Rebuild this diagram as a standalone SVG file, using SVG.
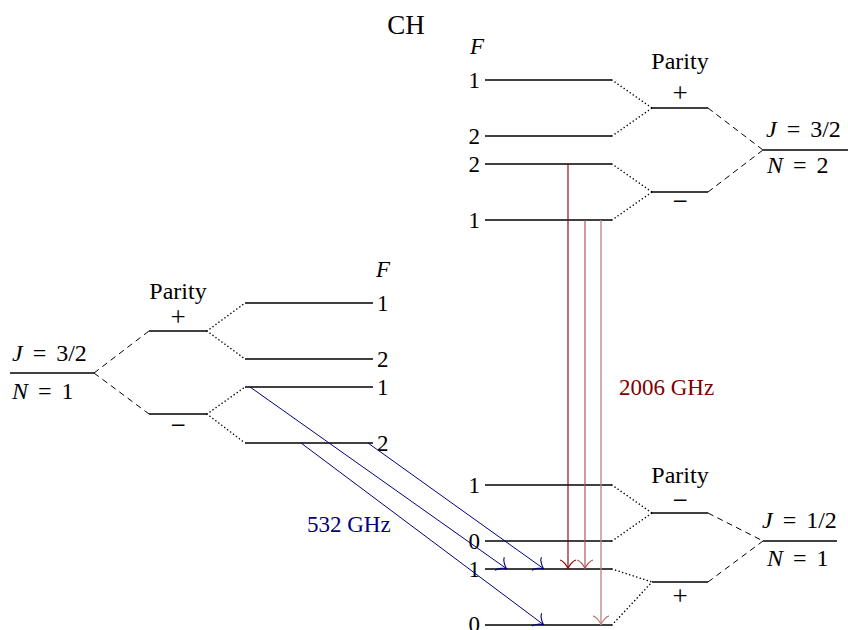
<svg xmlns="http://www.w3.org/2000/svg" width="848" height="630" viewBox="0 0 848 630">
<style>
  text { font-family: "Liberation Serif", "DejaVu Serif", serif; font-size: 23px; fill: #000; }
  .title { font-size: 27px; }
  .par { font-size: 24px; }
  .sign { font-size: 27px; }
  .math { font-size: 24px; word-spacing: 4px; }
  .mid { text-anchor: middle; }
  .end { text-anchor: end; }
  .it { font-style: italic; }
  .lvl { stroke: #000; stroke-width: 1.3; fill: none; }
  .dash { stroke: #000; stroke-width: 1; stroke-dasharray: 6 4.5; fill: none; }
  .dot { stroke: #000; stroke-width: 1.5; stroke-dasharray: 0.1 3.6; stroke-linecap: round; fill: none; }
  .blue { stroke: #000080; stroke-width: 1; fill: none; }
  .red1 { stroke: #800000; stroke-width: 1.1; fill: none; }
  .red2 { stroke: #a84c4c; stroke-width: 1.1; fill: none; }
  .red3 { stroke: #bf8080; stroke-width: 1.3; fill: none; }
  .bluetxt { fill: #000080; }
  .redtxt { fill: #800000; }
</style>
<defs>
  <marker id="ab" markerUnits="userSpaceOnUse" viewBox="-9 -10 14 20" markerWidth="14" markerHeight="20" refX="3" refY="0" orient="auto">
    <path d="M -6,-8 C -5.5,-5 0,-0.5 3,0 C 0,0.5 -5.5,5 -6,8" fill="none" stroke="#000080" stroke-width="1.1"/>
  </marker>
  <marker id="ar1" markerUnits="userSpaceOnUse" viewBox="-9 -10 14 20" markerWidth="14" markerHeight="20" refX="3" refY="0" orient="auto">
    <path d="M -6,-8 C -5.5,-5 0,-0.5 3,0 C 0,0.5 -5.5,5 -6,8" fill="none" stroke="#800000" stroke-width="1.2"/>
  </marker>
  <marker id="ar2" markerUnits="userSpaceOnUse" viewBox="-9 -10 14 20" markerWidth="14" markerHeight="20" refX="3" refY="0" orient="auto">
    <path d="M -6,-8 C -5.5,-5 0,-0.5 3,0 C 0,0.5 -5.5,5 -6,8" fill="none" stroke="#a84c4c" stroke-width="1.2"/>
  </marker>
  <marker id="ar3" markerUnits="userSpaceOnUse" viewBox="-9 -10 14 20" markerWidth="14" markerHeight="20" refX="3" refY="0" orient="auto">
    <path d="M -6,-8 C -5.5,-5 0,-0.5 3,0 C 0,0.5 -5.5,5 -6,8" fill="none" stroke="#bf8080" stroke-width="1.3"/>
  </marker>
</defs>

<text class="title mid" x="406" y="34">CH</text>

<!-- Left: N=1, J=3/2 (ground state) -->
<g id="left-J32-N1">
  <line class="lvl" x1="10" y1="373" x2="94" y2="373"/>
  <text class="math" x="12" y="361"><tspan class="it">J</tspan> = 3/2</text>
  <text class="math" x="12" y="399"><tspan class="it">N</tspan> = 1</text>
</g>
<g id="left-parity-plus">
  <line class="lvl" x1="149" y1="331" x2="207" y2="331"/>
  <text class="par mid" x="178" y="299">Parity</text>
  <text class="sign mid" x="178" y="326">+</text>
</g>
<g id="left-parity-minus">
  <line class="lvl" x1="149" y1="414" x2="207" y2="414"/>
  <text class="sign mid" x="178" y="434">−</text>
</g>
<g id="left-F-levels">
  <text class="it" x="376" y="277">F</text>
  <line class="lvl" x1="245" y1="303" x2="373" y2="303"/>
  <text x="377" y="311">1</text>
  <line class="lvl" x1="245" y1="359" x2="373" y2="359"/>
  <text x="377" y="367">2</text>
  <line class="lvl" x1="245" y1="387" x2="373" y2="387"/>
  <text x="377" y="395">1</text>
  <line class="lvl" x1="245" y1="443" x2="373" y2="443"/>
  <text x="377" y="451">2</text>
</g>

<!-- Upper right: N=2, J=3/2 -->
<g id="upper-J32-N2">
  <line class="lvl" x1="763" y1="150" x2="848" y2="150"/>
  <text class="math" x="766" y="137"><tspan class="it">J</tspan> = 3/2</text>
  <text class="math" x="767" y="173"><tspan class="it">N</tspan> = 2</text>
</g>
<g id="upper-parity-plus">
  <line class="lvl" x1="652" y1="108" x2="708" y2="108"/>
  <text class="par mid" x="680" y="69">Parity</text>
  <text class="sign mid" x="680" y="102">+</text>
</g>
<g id="upper-parity-minus">
  <line class="lvl" x1="652" y1="192" x2="708" y2="192"/>
  <text class="sign mid" x="680" y="210">−</text>
</g>
<g id="upper-F-levels">
  <text class="it" x="470" y="54">F</text>
  <line class="lvl" x1="485" y1="80" x2="612" y2="80"/>
  <text class="end" x="480" y="88">1</text>
  <line class="lvl" x1="485" y1="136" x2="612" y2="136"/>
  <text class="end" x="480" y="144">2</text>
  <line class="lvl" x1="485" y1="164" x2="612" y2="164"/>
  <text class="end" x="480" y="172">2</text>
  <line class="lvl" x1="485" y1="220" x2="612" y2="220"/>
  <text class="end" x="480" y="228">1</text>
</g>

<!-- Lower right: N=1, J=1/2 -->
<g id="lower-J12-N1">
  <line class="lvl" x1="763" y1="541" x2="837" y2="541"/>
  <text class="math" x="762" y="528"><tspan class="it">J</tspan> = 1/2</text>
  <text class="math" x="767" y="566"><tspan class="it">N</tspan> = 1</text>
</g>
<g id="lower-parity-minus">
  <line class="lvl" x1="652" y1="513" x2="708" y2="513"/>
  <text class="par mid" x="680" y="483">Parity</text>
  <text class="sign mid" x="680" y="509">−</text>
</g>
<g id="lower-parity-plus">
  <line class="lvl" x1="652" y1="582" x2="708" y2="582"/>
  <text class="sign mid" x="680" y="605">+</text>
</g>
<g id="lower-F-levels">
  <line class="lvl" x1="485" y1="485" x2="612" y2="485"/>
  <text class="end" x="480" y="493">1</text>
  <line class="lvl" x1="485" y1="541" x2="612" y2="541"/>
  <text class="end" x="480" y="549">0</text>
  <line class="lvl" x1="485" y1="569" x2="612" y2="569"/>
  <text class="end" x="480" y="577">1</text>
  <line class="lvl" x1="485" y1="625" x2="612" y2="625"/>
  <text class="end" x="480" y="632">0</text>
</g>

<g id="connectors">
  <!-- left -->
  <line class="dash" x1="94" y1="373" x2="149" y2="331"/>
  <line class="dash" x1="94" y1="373" x2="149" y2="414"/>
  <line class="dot" x1="207" y1="331" x2="245" y2="303"/>
  <line class="dot" x1="207" y1="331" x2="245" y2="359"/>
  <line class="dot" x1="207" y1="414" x2="245" y2="387"/>
  <line class="dot" x1="207" y1="414" x2="245" y2="443"/>
  <!-- upper right -->
  <line class="dash" x1="708" y1="108" x2="763" y2="150"/>
  <line class="dash" x1="708" y1="192" x2="763" y2="150"/>
  <line class="dot" x1="612" y1="80" x2="652" y2="108"/>
  <line class="dot" x1="612" y1="136" x2="652" y2="108"/>
  <line class="dot" x1="612" y1="164" x2="652" y2="192"/>
  <line class="dot" x1="612" y1="220" x2="652" y2="192"/>
  <!-- lower right -->
  <line class="dash" x1="708" y1="513" x2="763" y2="541"/>
  <line class="dash" x1="708" y1="582" x2="763" y2="541"/>
  <line class="dot" x1="612" y1="485" x2="652" y2="513"/>
  <line class="dot" x1="612" y1="541" x2="652" y2="513"/>
  <line class="dot" x1="612" y1="569" x2="652" y2="582"/>
  <line class="dot" x1="612" y1="625" x2="652" y2="582"/>
  <!-- 2006 GHz transitions -->
  <line class="red1" x1="568" y1="164" x2="568" y2="569" marker-end="url(#ar1)"/>
  <line class="red2" x1="585" y1="220" x2="585" y2="569" marker-end="url(#ar2)"/>
  <line class="red3" x1="601" y1="220" x2="601" y2="625" marker-end="url(#ar3)"/>
  <!-- 532 GHz transitions -->
  <line class="blue" x1="250" y1="387" x2="507" y2="569" marker-end="url(#ab)"/>
  <line class="blue" x1="368" y1="443" x2="544" y2="569" marker-end="url(#ab)"/>
  <line class="blue" x1="301" y1="443" x2="544" y2="625" marker-end="url(#ab)"/>
</g>

<text class="redtxt" x="619" y="395">2006 GHz</text>
<text class="bluetxt" x="307" y="532">532 GHz</text>
</svg>
